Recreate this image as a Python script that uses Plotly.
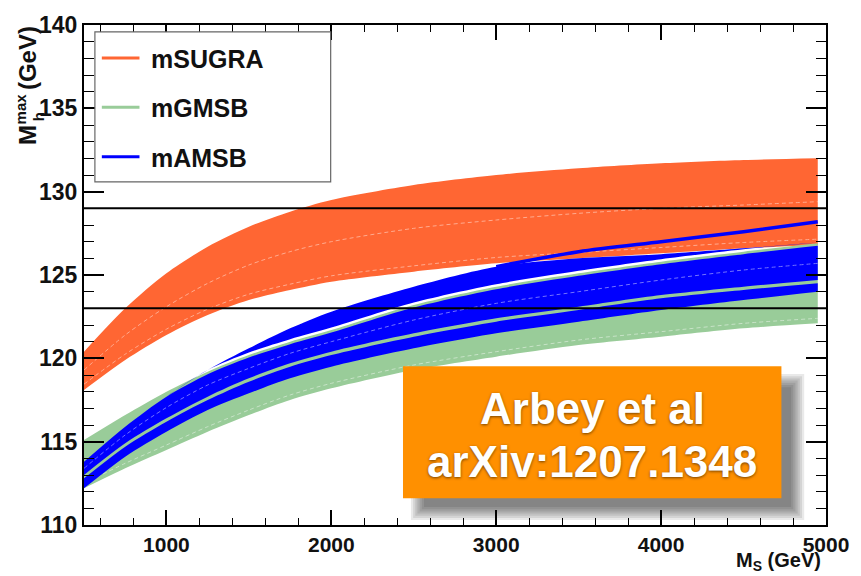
import plotly.graph_objects as go

# ---------------- data ----------------
MS = [500, 750, 1000, 1250, 1500, 1750, 2000, 2500, 3000, 3500, 4000, 4500, 4950]

sugra_hi = [120.4, 123.0, 125.1, 126.7, 127.9, 128.8, 129.5, 130.4, 131.0, 131.4, 131.7, 131.9, 132.0]
sugra_lo = [118.1, 119.9, 121.4, 122.6, 123.5, 124.1, 124.6, 125.2, 125.7, 126.0, 126.3, 126.6, 126.8]
sugra_dash_mid = [119.3, 121.4, 123.1, 124.5, 125.6, 126.4, 127.0, 127.8, 128.3, 128.7, 129.0, 129.2, 129.4]
sugra_dash_low = [118.45, 120.25, 121.75, 122.95, 123.85, 124.45, 124.95, 125.55, 126.05, 126.35, 126.65, 126.95, 127.15]

gmsb_hi = [115.1, 116.6, 118.0, 119.2, 120.2, 121.0, 121.7, 123.2, 124.3, 125.1, 125.8, 126.4, 126.9]
gmsb_lo = [112.2, 113.4, 114.5, 115.6, 116.6, 117.5, 118.2, 119.3, 120.1, 120.8, 121.3, 121.8, 122.1]
gmsb_dash = [112.5, 113.7, 114.8, 115.9, 116.9, 117.8, 118.5, 119.6, 120.4, 121.1, 121.6, 122.1, 122.4]

# mAMSB drawn as three blue sub-bands (gaps let the green band show through)
amsb_a_hi = [113.8, 115.9, 117.7, 119.3, 120.6, 121.8, 122.8, 124.3, 125.5, 126.0, 126.25, 126.6, 126.95]
amsb_a_lo = [113.8, 115.9, 117.7, 119.3, 120.35, 121.15, 121.85, 123.35, 124.45, 125.25, 125.95, 126.55, 126.95]
amsb_b_hi = [113.8, 115.9, 117.7, 119.05, 120.05, 120.85, 121.55, 123.05, 124.15, 124.95, 125.65, 126.25, 126.75]
amsb_b_lo = [113.0, 114.9, 116.4, 117.7, 118.8, 119.7, 120.4, 121.5, 122.4, 123.1, 123.8, 124.3, 124.7]
amsb_c_hi = [112.8, 114.7, 116.2, 117.5, 118.6, 119.5, 120.2, 121.3, 122.2, 122.9, 123.6, 124.1, 124.5]
amsb_c_lo = [112.2, 114.1, 115.6, 116.9, 117.9, 118.8, 119.5, 120.6, 121.5, 122.2, 122.9, 123.5, 124.0]
amsb_dash = [113.4, 115.4, 117.05, 118.4, 119.4, 120.3, 121.0, 122.3, 123.3, 124.0, 124.7, 125.3, 125.7]
MS_thin = [3000, 3500, 4000, 4500, 4950]
amsb_thin = [125.5, 126.4, 127.0, 127.6, 128.2]

mass_limits = [123, 129]
x_ticks = [1000, 2000, 3000, 4000, 5000]
x_range = [500, 5000]
y_range = [110, 140]

legend_names = ["mSUGRA", "mGMSB", "mAMSB"]
C_SUGRA = "#FF6633"
C_GMSB = "#99CC99"
C_AMSB = "#0000FF"
legend_colors = [C_SUGRA, C_GMSB, C_AMSB]

FONT = "Liberation Sans, Arial, Helvetica, sans-serif"

fig = go.Figure()


def band(lo, hi, color, name, x=MS):
    fig.add_trace(go.Scatter(x=x, y=lo, mode="lines",
                             line=dict(width=0, shape="spline", smoothing=0.8, color=color),
                             showlegend=False, hoverinfo="skip", name=name))
    fig.add_trace(go.Scatter(x=x, y=hi, mode="lines",
                             line=dict(width=0, shape="spline", smoothing=0.8, color=color),
                             fill="tonexty", fillcolor=color, showlegend=False, name=name))


def dash(y, x=MS):
    fig.add_trace(go.Scatter(x=x, y=y, mode="lines", opacity=0.45,
                             line=dict(width=1, color="white", dash="4px,3px", shape="spline", smoothing=0.8),
                             showlegend=False, hoverinfo="skip"))


band(sugra_lo, sugra_hi, C_SUGRA, "mSUGRA")
dash(sugra_dash_mid)
dash(sugra_dash_low)
band(gmsb_lo, gmsb_hi, C_GMSB, "mGMSB")
dash(gmsb_dash)
band(amsb_c_lo, amsb_c_hi, C_AMSB, "mAMSB")
band(amsb_b_lo, amsb_b_hi, C_AMSB, "mAMSB")
band(amsb_a_lo, amsb_a_hi, C_AMSB, "mAMSB")
fig.add_trace(go.Scatter(x=MS_thin, y=amsb_thin, mode="lines",
                         line=dict(width=3.5, color=C_AMSB, shape="spline", smoothing=0.8),
                         showlegend=False, name="mAMSB"))
dash(amsb_dash)

for m in mass_limits:
    fig.add_trace(go.Scatter(x=x_range, y=[m, m], mode="lines", line=dict(width=2, color="black"),
                             showlegend=False, hoverinfo="skip"))

# ---------------- layout ----------------
L, R, T, B = 84, 28, 18, 51
W, H = 861, 576
PW, PH = W - L - R, H - T - B


def px(xp):
    return (xp - L) / PW


def py(yp):
    return (H - B - yp) / PH


shapes = []
annotations = []

# legend box
shapes.append(dict(type="rect", xref="paper", yref="paper", x0=px(95), x1=px(333), y0=py(177), y1=py(25),
                   line=dict(color="#666666", width=1.2), fillcolor="white", layer="above"))
for i, (nm, col) in enumerate(zip(legend_names, legend_colors)):
    yy = [51.5, 101.5, 151.5][i]
    shapes.append(dict(type="line", xref="paper", yref="paper", x0=px(102), x1=px(140), y0=py(yy), y1=py(yy),
                       line=dict(color=col, width=3), layer="above"))
    annotations.append(dict(text=nm, xref="paper", yref="paper", x=px(150), y=py(yy + 1), xanchor="left",
                            yanchor="middle", showarrow=False,
                            font=dict(family=FONT, size=25, color="#111111", weight="bold")))

# drop shadow + orange citation box
for k in range(7):
    d = 7 - k * 2.2
    shapes.append(dict(type="rect", xref="paper", yref="paper",
                       x0=px(421 - d), x1=px(804 + d), y0=py(513 + d), y1=py(379 - d),
                       line=dict(width=0), fillcolor="rgba(0,0,0,0.085)", layer="above"))
shapes.append(dict(type="rect", xref="paper", yref="paper", x0=px(406), x1=px(788), y0=py(498), y1=py(364),
                   line=dict(width=0), fillcolor="#FF9000", layer="above"))
for txt, yy in [("Arbey et al", 407), ("arXiv:1207.1348", 461)]:
    annotations.append(dict(text=txt, xref="paper", yref="paper", x=px(597), y=py(yy), xanchor="center",
                            yanchor="middle", showarrow=False,
                            font=dict(family=FONT, size=44, color="white", weight="bold",
                                      shadow="0px 1px 3px rgba(0,0,0,0.55)")))

# y-axis title pieces (M with stacked h / max)
ytf = dict(family=FONT, size=24, color="#111111", weight="bold")
ysf = dict(family=FONT, size=15, color="#111111", weight="bold")
ytitle = [
    dict(text="M", x=px(27), y=py(130), textangle=-90, font=ytf),
    dict(text="max", x=px(20), y=py(103), textangle=-90, font=ysf),
    dict(text="h", x=px(38), y=py(111), textangle=-90, font=ysf),
    dict(text="(GeV)", x=px(27), y=py(52), textangle=-90, font=ytf),
]
for a in ytitle:
    a.update(xref="paper", yref="paper", showarrow=False, xanchor="center", yanchor="middle")
annotations += ytitle

# x-axis title
annotations.append(dict(text="M<sub>S</sub> (GeV)", xref="paper", yref="paper", x=px(830), y=py(562),
                        xanchor="right", yanchor="middle", showarrow=False,
                        font=dict(family=FONT, size=20, color="#111111", weight="bold")))

fig.update_layout(
    width=W, height=H, autosize=False,
    margin=dict(l=L, r=R, t=T, b=B, pad=0),
    paper_bgcolor="white", plot_bgcolor="white",
    showlegend=False,
    shapes=shapes, annotations=annotations,
    font=dict(family=FONT),
)
fig.update_xaxes(range=x_range, tickvals=x_ticks, ticks="inside", ticklen=15, tickwidth=1.5, tickcolor="black",
                 minor=dict(ticks="inside", ticklen=7, dtick=200, tick0=0, tickwidth=1.2, tickcolor="black",
                            showgrid=False),
                 showline=True, linewidth=2, linecolor="black", mirror="ticks", showgrid=False, zeroline=False,
                 tickfont=dict(family=FONT, size=21, color="#111111", weight="bold"))
fig.update_yaxes(range=y_range, tick0=110, dtick=5, ticks="inside", ticklen=20, tickwidth=1.5, tickcolor="black",
                 minor=dict(ticks="inside", ticklen=10, dtick=1, tick0=110, tickwidth=1.2, tickcolor="black",
                            showgrid=False),
                 showline=True, linewidth=2, linecolor="black", mirror="ticks", showgrid=False, zeroline=False,
                 tickfont=dict(family=FONT, size=23, color="#111111", weight="bold"))

fig.write_html("out.html")
